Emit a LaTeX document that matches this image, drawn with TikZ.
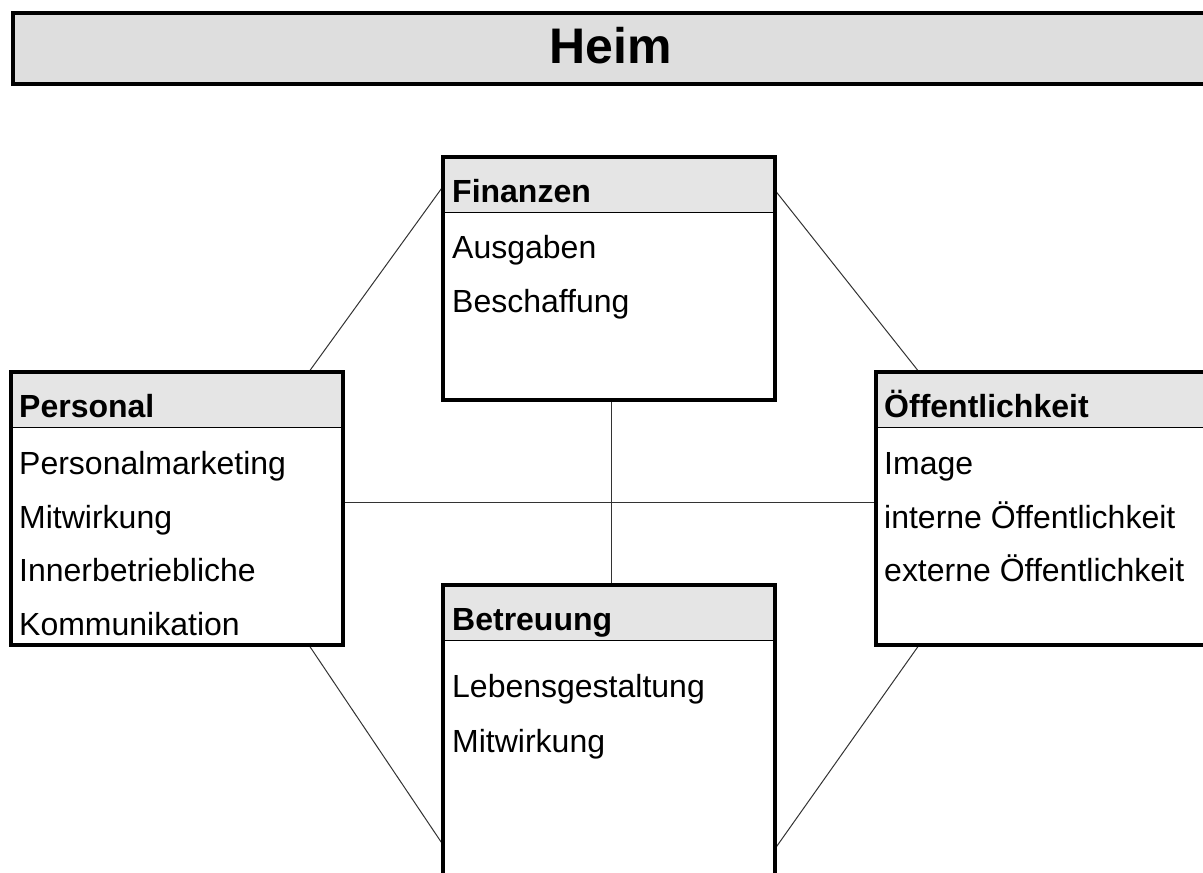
\documentclass[tikz,border=0pt]{standalone}
\usepackage{fontspec}
\setmainfont{Liberation Sans}
\pgfdeclarelayer{bg}
\pgfsetlayers{bg,main}
\tikzset{
    kopf/.style={draw, line width=1pt, fill=black!10, anchor=north west,
        minimum width=332pt, minimum height=55pt, inner sep=0pt, outer sep=0pt},
    klasse/.style={draw, line width=3.5pt, anchor=north west,
        minimum width=332pt, inner sep=0pt, outer sep=0pt},
    eintrag/.style={anchor=base west, inner sep=0pt, font=\fontsize{32}{38}\selectfont},
    titel/.style={eintrag, font=\fontsize{32}{38}\selectfont\bfseries},
    linie/.style={line width=1pt, draw=black!80},
}

\begin{document}
\begin{tikzpicture}[x=1pt, y=-1pt]
    \clip (0,0) rectangle (1203,873);

    % Kopfzeile
    \node (kasten) [draw, line width=3.5pt, fill=black!13, anchor=north west, minimum width=1210pt, minimum height=71pt, inner sep=0pt] at (11,11) {};
    \node (heim) [anchor=base, inner sep=0pt, font=\fontsize{50}{60}\selectfont\bfseries] at (611,63) {Heim};

    % Kopffelder
    \node (finK) [kopf] at (443,157) {};
    \node (persK) [kopf] at (11,372) {};
    \node (oeffK) [kopf] at (876,372) {};
    \node (betK) [kopf] at (443,585) {};

    % Klassen
    \node (fin) [klasse, minimum height=243pt] at (443,157) {};
    \node (pers) [klasse, minimum height=273pt] at (11,372) {};
    \node (oeff) [klasse, minimum height=273pt] at (876,372) {};
    \node (bet) [klasse, minimum height=320pt] at (443,585) {};

    \node (finT) [titel] at (452,202) {Finanzen};
    \node (fin1) [eintrag] at (452,258) {Ausgaben};
    \node (fin2) [eintrag] at (452,312) {Beschaffung};

    \node (persT) [titel] at (19,417) {Personal};
    \node (pers1) [eintrag] at (19,474) {Personalmarketing};
    \node (pers2) [eintrag] at (19,528) {Mitwirkung};
    \node (pers3) [eintrag] at (19,581) {Innerbetriebliche};
    \node (pers4) [eintrag] at (19,635) {Kommunikation};

    \node (oeffT) [titel] at (884,417) {Öffentlichkeit};
    \node (oeff1) [eintrag] at (884,474) {Image};
    \node (oeff2) [eintrag] at (884,528) {interne Öffentlichkeit};
    \node (oeff3) [eintrag] at (884,581) {externe Öffentlichkeit};

    \node (betT) [titel] at (452,630) {Betreuung};
    \node (bet1) [eintrag] at (452,697) {Lebensgestaltung};
    \node (bet2) [eintrag] at (452,752) {Mitwirkung};

    \begin{pgfonlayer}{bg}
        \draw[linie] (pers.46.6) -- (fin.151.9);
        \draw[linie] (fin.28.1) -- (oeff.132.3);
        \draw[linie] (pers.314.9) -- (bet.211.1);
        \draw[linie] (oeff.228.9) -- (bet.328.2);
        \draw[linie] (pers.2.2) -- (pers.2.2 -| oeff.west);
        \draw[linie] (fin.271.9) -- (fin.271.9 |- bet.north);
    \end{pgfonlayer}
\end{tikzpicture}
\end{document}
